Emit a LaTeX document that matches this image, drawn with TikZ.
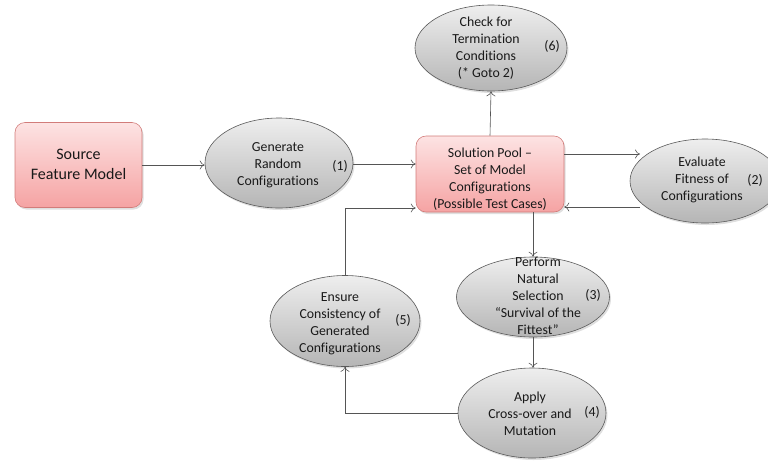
\documentclass[tikz,border=0pt]{standalone}
\usepackage{fontspec}
\setmainfont{Carlito}[Ligatures=NoCommon]
\usetikzlibrary{shadows,arrows.meta,shapes.geometric}
\definecolor{boxtop}{HTML}{FDE3E3}
\definecolor{boxbot}{HTML}{F5A3A3}
\definecolor{boxline}{HTML}{D27C7A}
\definecolor{elltop}{HTML}{EEEEEE}
\definecolor{ellbot}{HTML}{B5B5B5}
\definecolor{ellline}{HTML}{5A5A5A}
\definecolor{conn}{HTML}{555555}
\tikzset{
  x=1pt, y=-1pt,
  txt/.style={font=\fontsize{13.8}{17}\selectfont, align=center, inner sep=0pt, text=black!90},
  numlbl/.style={font=\fontsize{13.8}{17}\selectfont, inner sep=0pt, text=black!90},
  ell/.style={ellipse, draw=ellline, line width=0.6pt, top color=elltop, bottom color=ellbot,
    drop shadow={shadow xshift=1.5pt, shadow yshift=-2pt, opacity=0.25}, inner sep=0pt},
  rbox/.style={rectangle, rounded corners=10pt, draw=boxline, line width=0.6pt, top color=boxtop, bottom color=boxbot,
    drop shadow={shadow xshift=1.5pt, shadow yshift=-2pt, opacity=0.25}, inner sep=0pt},
  conn/.style={draw=conn, line width=0.6pt, -{To[length=5pt,width=9pt]}},
}
\begin{document}
\begin{tikzpicture}
\useasboundingbox (0,0) rectangle (768,464);
\clip (0,0) rectangle (768,464);
% source
\node[rbox, minimum width=127pt, minimum height=85pt] (src) at (78.5,165) {};
\node[txt, font=\fontsize{16}{20}\selectfont] (srct) at (78.5,164) {Source\\Feature Model};
% solution pool
\node[rbox, minimum width=148pt, minimum height=76pt] (pool) at (490,174) {};
\node[txt] (poolt) at (490,179) {Solution Pool --\\Set of Model\\Configurations\\(Possible Test Cases)};
% generate
\node[ell, minimum width=148pt, minimum height=90pt] (gen) at (279,163) {};
\node[txt] (gent) at (278,165) {Generate\\Random\\Configurations};
\node[numlbl] (genn) at (340,166) {(1)};
% check
\node[ell, minimum width=152pt, minimum height=86pt] (chk) at (491,48) {};
\node[txt] (chkt) at (486,48) {Check for\\Termination\\Conditions\\(* Goto 2)};
\node[numlbl] (chkn) at (552,46) {(6)};
% evaluate
\node[ell, minimum width=150pt, minimum height=84pt] (eva) at (705,181) {};
\node[txt] (evat) at (702,180) {Evaluate\\Fitness of\\Configurations};
\node[numlbl] (evan) at (755,180) {(2)};
% perform
\node[ell, minimum width=153pt, minimum height=80pt] (per) at (533,297) {};
\node[txt] (pert) at (538,296) {Perform\\Natural\\Selection\\``Survival of the\\Fittest''};
\node[numlbl] (pern) at (593,295) {(3)};
% apply
\node[ell, minimum width=148pt, minimum height=90pt] (app) at (532,413) {};
\node[txt] (appt) at (530,414) {Apply\\Cross-over and\\Mutation};
\node[numlbl] (appn) at (592,412) {(4)};
% ensure
\node[ell, minimum width=150pt, minimum height=91pt] (ens) at (345,321) {};
\node[txt] (enst) at (340,324) {Ensure\\Consistency of\\Generated\\Configurations};
\node[numlbl] (ensn) at (403,320) {(5)};
% connectors
\draw[conn] (src.east |- 0,165) -- (gen.west |- 0,165);
\draw[conn] (gen.east |- 0,164) -- (pool.west |- 0,164);
\draw[conn] (pool.north) -- (chk.south);
\coordinate (ev1) at (640,154);
\draw[conn] (pool.east |- ev1) -- (ev1);
\coordinate (ev2) at (640,207);
\draw[conn] (ev2) -- (pool.east |- ev2);
\draw[conn] (pool.south -| per.north) -- (per.north);
\draw[conn] (per.south) -- (app.north -| per.south);
\coordinate (c1) at (345,413);
\draw[conn] (app.west) -- (c1) -- (ens.south);
\coordinate (c2) at (345,208);
\draw[conn] (ens.north) -- (c2) -- (pool.west |- c2);
\end{tikzpicture}
\end{document}
